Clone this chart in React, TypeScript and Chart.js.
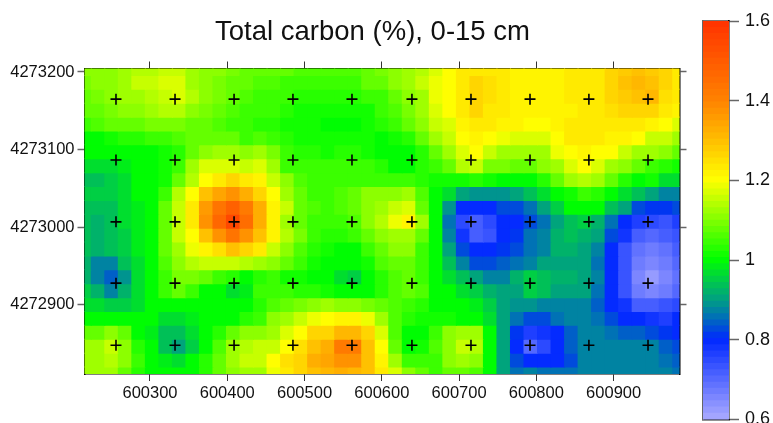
import React, { useEffect, useRef } from "react";
import { Chart, registerables } from "chart.js";

Chart.register(...registerables);

const titleText = "Total carbon (%), 0-15 cm";
const xTicks = [600300, 600400, 600500, 600600, 600700, 600800, 600900];
const yTicks = [4272900, 4273000, 4273100, 4273200];
const colorTicks = [0.6, 0.8, 1, 1.2, 1.4, 1.6];

const sampleX = [600256, 600332.4, 600408.8, 600485, 600561.4, 600639, 600715.4, 600791.8, 600868, 600944.5];
const sampleY = [4273165, 4273086.7, 4273007, 4272928, 4272848];

const xNodes = [
  600215.25, 600232.75, 600250.25, 600267.75, 600285.25, 600302.75, 600320.25, 600337.75, 600355.25,
  600372.75, 600390.25, 600407.75, 600425.25, 600442.75, 600460.25, 600477.75, 600495.25, 600512.75,
  600530.25, 600547.75, 600565.25, 600582.75, 600600.25, 600617.75, 600635.25, 600652.75, 600670.25,
  600687.75, 600705.25, 600722.75, 600740.25, 600757.75, 600775.25, 600792.75, 600810.25, 600827.75,
  600845.25, 600862.75, 600880.25, 600897.75, 600915.25, 600932.75, 600950.25, 600967.75, 600985.25,
];
const yNodes = [
  4273204.5, 4273186.6, 4273168.7, 4273150.8, 4273133.0, 4273115.1, 4273097.2, 4273079.3, 4273061.4,
  4273043.5, 4273025.6, 4273007.8, 4272989.9, 4272972.0, 4272954.1, 4272936.2, 4272918.3, 4272900.4,
  4272882.6, 4272864.7, 4272846.8, 4272828.9, 4272811.0,
];

const carbonRows = [
  [1.10,1.10,1.11,1.13,1.14,1.14,1.15,1.15,1.13,1.11,1.10,1.09,1.08,1.07, 1.07,1.07,1.06,1.06,1.06,1.06,1.06,1.08,1.09,1.10,1.12,1.14,1.17,1.2,1.23,1.24,1.24,1.23,1.22, 1.22,1.22,1.22,1.23,1.24,1.24,1.26,1.28,1.29,1.28,1.26,1.24],
  [1.09,1.10,1.11,1.13,1.15,1.15,1.17,1.17,1.13,1.11,1.09,1.08,1.07,1.06, 1.06,1.05,1.05,1.05,1.05,1.05,1.05,1.07,1.08,1.1,1.12,1.15,1.18,1.2,1.24,1.26,1.25,1.23,1.22, 1.22,1.22,1.22,1.23,1.24,1.24,1.26,1.29,1.31,1.3,1.26,1.24],
  [1.08,1.09,1.10,1.12,1.13,1.14,1.16,1.17,1.14,1.11,1.09,1.07,1.06,1.05, 1.05,1.04,1.03,1.03,1.03,1.03,1.03,1.04,1.05,1.08,1.10,1.13,1.18,1.2,1.24,1.26,1.25,1.23,1.22, 1.21,1.21,1.22,1.23,1.24,1.24,1.26,1.28,1.3,1.31,1.25,1.24],
  [1.07,1.08,1.09,1.10,1.11,1.12,1.14,1.14,1.11,1.09,1.08,1.06,1.05,1.04, 1.04,1.03,1.02,1.02,1.01,1.01,1.01,1.02,1.04,1.06,1.09,1.12,1.17,1.2,1.24,1.26,1.24,1.23,1.22, 1.21,1.21,1.21,1.22,1.23,1.24,1.25,1.27,1.27,1.27,1.24,1.21],
  [1.05,1.06,1.07,1.08,1.08,1.09,1.09,1.09,1.07,1.07,1.06,1.05,1.04,1.03, 1.03,1.02,1.01,1.01,1.0,1.0,1.0,1.01,1.03,1.05,1.07,1.11,1.15,1.17,1.21,1.23,1.23,1.22,1.21, 1.2,1.2,1.21,1.23,1.24,1.24,1.24,1.24,1.23,1.22,1.2,1.17],
  [1.0,1.0,1.01,1.03,1.03,1.04,1.04,1.06,1.08,1.08,1.08,1.07,1.05,1.06, 1.05,1.03,1.02,1.02,1.02,1.01,1.01,1.01,1.0,1.01,1.03,1.08,1.12,1.15,1.2,1.21,1.2,1.18,1.17, 1.17,1.17,1.2,1.23,1.24,1.23,1.22,1.21,1.2,1.16,1.15,1.12],
  [1.0,1.0,1.0,1.0,1.0,1.0,1.01,1.03,1.07,1.10,1.12,1.13,1.11,1.13, 1.09,1.04,1.03,1.03,1.02,1.03,1.03,1.02,1.0,1.0,1.0,1.03,1.08,1.13,1.17,1.2,1.16,1.13,1.12, 1.12,1.13,1.18,1.2,1.22,1.2,1.2,1.15,1.13,1.13,1.1,1.07],
  [.97,.97,.97,.98,1.0,1.0,1.02,1.04,1.12,1.17,1.17,1.17,1.16,1.17, 1.12,1.05,1.04,1.04,1.04,1.05,1.05,1.04,1.03,1.0,1.0,1.03,1.05,1.08,1.14,1.15,1.09,1.09,1.08, 1.07,1.1,1.13,1.17,1.2,1.17,1.12,1.1,1.08,1.05,1.03,1.02],
  [.94,.94,.95,.96,1.0,1.0,1.02,1.07,1.14,1.2,1.24,1.26,1.24,1.21, 1.15,1.1,1.06,1.05,1.04,1.05,1.05,1.05,1.05,1.04,1.04,1.03,1.02,1.02,1.02,1.03,1.02,1.0,1.0, 1.0,1.03,1.08,1.12,1.14,1.12,1.07,1.03,1.0,1.02,.97,.97],
  [.95,.95,.95,.97,1.0,1.0,1.05,1.14,1.2,1.3,1.34,1.38,1.33,1.27, 1.2,1.13,1.08,1.05,1.05,1.06,1.08,1.1,1.1,1.1,1.12,1.06,1.0,.96,.91,.89,.89,.89,.91, .93,.97,1.0,1.02,1.05,1.03,1.0,.97,.93,.9,.88,.88],
  [.93,.94,.94,.96,.98,1.0,1.07,1.15,1.23,1.35,1.44,1.48,1.42,1.33, 1.22,1.15,1.08,1.06,1.05,1.06,1.08,1.1,1.13,1.16,1.17,1.08,1.0,.89,.8,.79,.79,.82,.83, .86,.9,.95,1.0,1.0,1.0,.94,.91,.83,.81,.81,.82],
  [.93,.92,.93,.96,.98,1.0,1.07,1.16,1.24,1.38,1.46,1.55,1.45,1.33, 1.22,1.12,1.07,1.04,1.04,1.05,1.06,1.1,1.14,1.18,1.21,1.12,1.0,.85,.75,.72,.75,.8,.8, .82,.86,.9,.94,.95,.92,.85,.8,.76,.75,.74,.76],
  [.93,.92,.93,.95,.98,1.0,1.07,1.15,1.2,1.3,1.38,1.44,1.38,1.3, 1.22,1.14,1.09,1.05,1.03,1.03,1.05,1.07,1.1,1.12,1.13,1.08,1.0,.87,.78,.72,.74,.8,.81, .85,.88,.92,.93,.92,.9,.83,.78,.71,.7,.71,.73],
  [.93,.92,.93,.95,.98,1.0,1.07,1.13,1.18,1.22,1.25,1.3,1.27,1.23, 1.16,1.1,1.06,1.03,1.02,1.0,1.0,1.05,1.08,1.1,1.1,1.05,1.0,.9,.83,.8,.8,.81,.82, .86,.88,.92,.92,.91,.88,.8,.74,.69,.67,.68,.71],
  [.92,.88,.88,.93,.97,1.0,1.06,1.11,1.14,1.15,1.15,1.15,1.14,1.13, 1.1,1.07,1.05,1.02,1.0,1.0,1.0,1.02,1.06,1.08,1.07,1.05,1.0,.93,.87,.83,.83,.84,.86, .88,.9,.91,.91,.9,.86,.8,.73,.67,.66,.67,.7],
  [.92,.88,.84,.89,.97,1.0,1.05,1.09,1.09,1.07,1.04,1.03,1.0,1.03, 1.04,1.02,1.01,1.0,1.0,.97,.95,1.0,1.03,1.06,1.07,1.05,1.0,.97,.93,.9,.88,.87,.92, .95,.93,.92,.92,.9,.87,.8,.73,.66,.63,.65,.69],
  [.95,.92,.88,.92,.97,1.0,1.04,1.07,1.04,1.0,1.0,.96,.99,1.04, 1.05,1.04,1.03,1.03,1.02,1.0,1.0,1.0,1.03,1.06,1.07,1.06,1.0,1.0,.97,.95,.92,.91,.91, .95,.93,.91,.91,.9,.86,.8,.74,.67,.65,.67,.7],
  [.96,.96,.95,.95,.97,1.0,1.0,1.0,1.0,1.0,1.0,1.0,1.0,1.03, 1.06,1.08,1.09,1.11,1.12,1.11,1.11,1.09,1.08,1.06,1.05,1.03,1.0,1.0,1.0,.98,.95,.91,.89, .89,.88,.88,.87,.87,.84,.79,.78,.72,.71,.73,.75],
  [1.0,1.0,1.0,1.0,1.0,1.0,.97,.97,.98,1.0,1.0,1.0,1.03,1.05, 1.1,1.13,1.16,1.19,1.2,1.21,1.21,1.18,1.13,1.06,1.03,1.02,1.02,1.02,1.0,1.0,.97,.9,.85, .83,.83,.85,.87,.87,.86,.83,.8,.79,.78,.77,.79],
  [1.07,1.08,1.1,1.08,1.0,.99,.94,.94,.96,1.0,1.03,1.08,1.1,1.1, 1.13,1.17,1.2,1.27,1.27,1.31,1.31,1.27,1.17,1.06,1.0,1.0,1.05,1.1,1.13,1.13,1.0,.9,.81, .76,.78,.79,.84,.88,.87,.85,.84,.84,.83,.81,.8],
  [1.12,1.13,1.15,1.1,1.03,1.0,.93,.9,.95,1.0,1.06,1.12,1.14,1.15, 1.16,1.2,1.25,1.29,1.33,1.42,1.42,1.3,1.2,1.07,1.0,1.02,1.06,1.1,1.16,1.14,1.0,.9,.79, .7,.75,.8,.84,.88,.87,.87,.87,.87,.87,.84,.83],
  [1.13,1.13,1.14,1.1,1.05,1.0,.98,.97,1.0,1.03,1.08,1.12,1.15,1.16, 1.2,1.25,1.27,1.32,1.34,1.38,1.38,1.3,1.22,1.13,1.05,1.05,1.05,1.1,1.12,1.1,1.0,.91,.83, .8,.8,.8,.83,.87,.88,.87,.87,.87,.88,.86,.84],
  [1.13,1.13,1.13,1.07,1.03,1.0,1.0,1.0,1.0,1.03,1.07,1.1,1.13,1.13, 1.18,1.24,1.27,1.3,1.31,1.33,1.31,1.3,1.24,1.17,1.1,1.07,1.05,1.07,1.08,1.06,1.0,.91,.86, .87,.85,.86,.85,.87,.88,.88,.88,.88,.88,.87,.86],
];

const colorStops: [number, number, number, number][] = [
  [0.6, 170, 170, 255],
  [0.8, 0, 40, 255],
  [0.85, 0, 105, 190],
  [0.9, 0, 160, 130],
  [0.95, 0, 205, 70],
  [1.0, 0, 255, 0],
  [1.1, 130, 255, 0],
  [1.2, 255, 255, 0],
  [1.3, 255, 190, 0],
  [1.4, 255, 130, 0],
  [1.6, 255, 50, 0],
];

const LEVELS = 64;
function colorOf(value: number): string {
  const q = Math.min(LEVELS - 1, Math.max(0, Math.floor(((value - 0.6) / 1.0) * LEVELS)));
  const v = 0.6 + ((q + 0.5) / LEVELS) * 1.0;
  for (let i = 1; i < colorStops.length; i++) {
    const a = colorStops[i - 1];
    const b = colorStops[i];
    if (v <= b[0]) {
      const t = (v - a[0]) / (b[0] - a[0]);
      const c = [1, 2, 3].map((k) => Math.round(a[k] + (b[k] - a[k]) * t));
      return `rgb(${c[0]},${c[1]},${c[2]})`;
    }
  }
  return "rgb(255,50,0)";
}

const FONT = "'Liberation Sans', Arial, sans-serif";
const TEXT = "#111";
const HALF_ROW = 8.95;

export default function App() {
  const mainRef = useRef<HTMLCanvasElement>(null);
  const barRef = useRef<HTMLCanvasElement>(null);

  useEffect(() => {
    const cellSets: any[] = carbonRows.map((row, r) => ({
      type: "bar",
      order: 2,
      grouped: false,
      barPercentage: 1,
      categoryPercentage: 1,
      inflateAmount: 0.5,
      borderWidth: 0,
      data: row.map((v, c) => ({ x: xNodes[c], y: [yNodes[r] - HALF_ROW, yNodes[r] + HALF_ROW], v })),
      backgroundColor: (ctx: any) => colorOf(ctx.raw ? ctx.raw.v : 1),
    }));
    const samples = sampleY.flatMap((y) => sampleX.map((x) => ({ x, y })));

    const frameAxis = (extra: any) => ({
      offset: false,
      border: { display: true, color: "#000", width: 1.5 },
      ...extra,
    });

    const main = new Chart(mainRef.current!, {
      type: "bar",
      data: {
        datasets: [
          ...cellSets,
          {
            type: "scatter",
            order: 1,
            data: samples,
            pointStyle: "cross",
            pointRadius: 5.5,
            pointHoverRadius: 5.5,
            borderColor: "#000",
            pointBorderColor: "#000",
            pointBorderWidth: 1.6,
            backgroundColor: "#000",
          },
        ],
      } as any,
      options: {
        animation: false,
        responsive: false,
        events: [],
        layout: { padding: 0 },
        plugins: {
          legend: { display: false },
          tooltip: { enabled: false },
          title: {
            display: true,
            text: titleText,
            color: TEXT,
            font: { family: FONT, size: 27.5, weight: "normal", lineHeight: 1.2 },
            padding: { top: 15.5, bottom: 0 },
          },
        },
        scales: {
          x: frameAxis({
            type: "linear",
            position: "bottom",
            min: xNodes[0],
            max: xNodes[xNodes.length - 1],
            afterBuildTicks: (a: any) => { a.ticks = xTicks.map((value) => ({ value })); },
            afterFit: (a: any) => { a.height = 49; },
            grid: { display: true, offset: false, drawOnChartArea: false, drawTicks: true, tickLength: 7, tickColor: "#333", tickWidth: 1 },
            ticks: { color: TEXT, padding: 3, maxRotation: 0, autoSkip: false, font: { family: FONT, size: 16.5 }, callback: (v: any) => String(v) },
          }),
          xTop: frameAxis({
            type: "linear",
            position: "top",
            min: xNodes[0],
            max: xNodes[xNodes.length - 1],
            afterBuildTicks: (a: any) => { a.ticks = xTicks.map((value) => ({ value })); },
            afterFit: (a: any) => { a.height = 20; },
            grid: { display: true, offset: false, drawOnChartArea: false, drawTicks: true, tickLength: 7, tickColor: "#333", tickWidth: 1 },
            ticks: { display: false },
          }),
          y: frameAxis({
            type: "linear",
            position: "left",
            min: yNodes[yNodes.length - 1],
            max: yNodes[0],
            afterBuildTicks: (a: any) => { a.ticks = yTicks.map((value) => ({ value })); },
            afterFit: (a: any) => { a.width = 84.5; },
            grid: { display: true, drawOnChartArea: false, drawTicks: true, tickLength: 7, tickColor: "#666", tickWidth: 1.5 },
            ticks: { color: TEXT, padding: 3, autoSkip: false, font: { family: FONT, size: 16.5 }, callback: (v: any) => String(v) },
          }),
          yRight: frameAxis({
            type: "linear",
            position: "right",
            min: yNodes[yNodes.length - 1],
            max: yNodes[0],
            afterBuildTicks: (a: any) => { a.ticks = yTicks.map((value) => ({ value })); },
            afterFit: (a: any) => { a.width = 65.5; },
            grid: { display: true, drawOnChartArea: false, drawTicks: true, tickLength: 7, tickColor: "#666", tickWidth: 1.5 },
            ticks: { display: false },
          }),
        },
      } as any,
    });

    const levels = Array.from({ length: LEVELS }, (_, k) => 0.6 + k / LEVELS);
    const bar = new Chart(barRef.current!, {
      type: "bar",
      data: {
        labels: ["scale"],
        datasets: levels.map((lo) => ({
          grouped: false,
          barPercentage: 1,
          categoryPercentage: 1,
          inflateAmount: 0.5,
          borderWidth: 0,
          data: [[lo, lo + 1 / LEVELS]],
          backgroundColor: colorOf(lo + 0.5 / LEVELS),
        })),
      } as any,
      options: {
        animation: false,
        responsive: false,
        events: [],
        layout: { padding: { top: 21, bottom: 40.5, left: 13, right: 0 } },
        plugins: { legend: { display: false }, tooltip: { enabled: false }, title: { display: false } },
        scales: {
          x: {
            type: "category",
            position: "bottom",
            afterFit: (a: any) => { a.height = 0; },
            grid: { display: false },
            border: { display: true, color: "#222", width: 1.5 },
            ticks: { display: false },
          },
          xTop: {
            type: "category",
            position: "top",
            afterFit: (a: any) => { a.height = 0; },
            grid: { display: false },
            border: { display: true, color: "#777", width: 1.5 },
            ticks: { display: false },
          },
          y: {
            type: "linear",
            position: "right",
            min: 0.6,
            max: 1.6,
            afterBuildTicks: (a: any) => { a.ticks = colorTicks.map((value) => ({ value })); },
            afterFit: (a: any) => { a.width = 44; },
            grid: { display: true, drawOnChartArea: false, drawTicks: true, tickLength: 10, tickColor: "#666", tickWidth: 1.5 },
            border: { display: true, color: "#000", width: 1.5 },
            ticks: { color: TEXT, padding: 6, autoSkip: false, font: { family: FONT, size: 18 }, callback: (v: any) => String(Math.round(v * 10) / 10) },
          },
          yLeft: {
            type: "linear",
            position: "left",
            min: 0.6,
            max: 1.6,
            afterFit: (a: any) => { a.width = 0; },
            grid: { display: false },
            border: { display: true, color: "#666", width: 1.5 },
            ticks: { display: false },
          },
        },
      } as any,
    });

    return () => {
      main.destroy();
      bar.destroy();
    };
  }, []);

  return (
    <div style={{ position: "fixed", left: 0, top: 0, width: 773, height: 423, overflow: "hidden", background: "#fff" }}>
      <canvas ref={mainRef} width={745} height={423} style={{ position: "absolute", left: 0, top: 0 }} />
      <canvas ref={barRef} width={83} height={460} style={{ position: "absolute", left: 690, top: 0 }} />
    </div>
  );
}
